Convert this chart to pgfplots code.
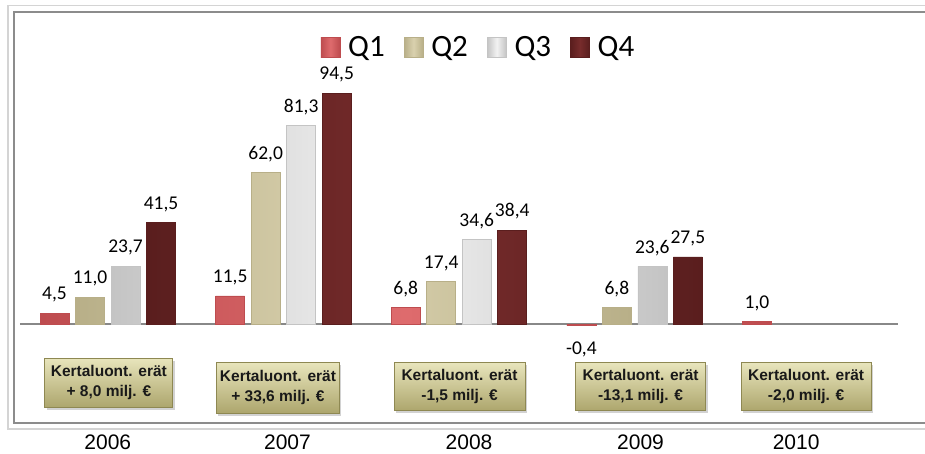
\documentclass[border=0pt]{standalone}
\usepackage{fontspec}
\setmainfont{Carlito}
\newfontfamily\arialfont{Liberation Sans}
\usepackage{pgfplots}
\pgfplotsset{compat=1.18}
\usetikzlibrary{shadows}
\definecolor{qonem}{HTML}{DE6B6D}
\definecolor{qonee}{HTML}{BE4C4F}
\definecolor{qtwom}{HTML}{D9D1AE}
\definecolor{qtwoe}{HTML}{B8AF88}
\definecolor{qthreem}{HTML}{F2F2F2}
\definecolor{qthreee}{HTML}{C4C4C4}
\definecolor{qfourm}{HTML}{772C2C}
\definecolor{qfoure}{HTML}{5A1E1E}
\definecolor{boxlight}{HTML}{E8E5BC}
\definecolor{boxdark}{HTML}{ADA66D}
\definecolor{boxborder}{HTML}{8E8852}
\definecolor{outerframe}{HTML}{D4D4D4}
\definecolor{innerframe}{HTML}{8C8C8C}
\definecolor{zeroline}{HTML}{888888}
\pgfplotsset{
  qbar/.style 2 args={draw=#2, line width=0.6pt, left color=#2, right color=#2, middle color=#1,
    legend image code/.code={\path[##1] (0pt,-10pt) rectangle (19pt,10pt);}},
}
\tikzset{kbox/.style={draw=boxborder, line width=0.8pt, top color=boxlight, bottom color=boxdark,
  align=center, inner sep=0pt, text=black!90,
  font=\arialfont\bfseries\fontsize{15.5}{20}\selectfont,
  drop shadow={shadow xshift=2pt, shadow yshift=-2.5pt, opacity=0.35}}}
\begin{document}
\begin{tikzpicture}
\useasboundingbox (0,0) rectangle (925pt,454pt);
\fill[white] (0,0) rectangle (925pt,454pt);
\draw[outerframe, line width=1.5pt] (940pt,25pt) -- (8pt,25pt) -- (8pt,448.5pt) -- (940pt,448.5pt);
\draw[innerframe, line width=1.5pt] (940pt,31pt) -- (14pt,31pt) -- (14pt,442pt) -- (940pt,442pt);
\begin{axis}[
  at={(20pt,31pt)}, anchor=south west, scale only axis,
  width=878pt, height=411pt,
  xmin=-0.5, xmax=4.5, ymin=-40.5, ymax=127.7,
  axis line style={draw=none},
  ytick=\empty,
  xtick={0,1.023,2.057,3.034,3.92},
  xticklabels={2006,2007,2008,2009,2010},
  xticklabel style={font=\arialfont\fontsize{21}{24}\selectfont, anchor=base, inner sep=0pt, yshift=-27pt},
  major tick length=0pt,
  extra y ticks={0}, extra y tick labels={},
  extra y tick style={grid=major, major grid style={draw=zeroline, line width=1.5pt}},
  ybar, bar width=29pt, clip=false,
  nodes near coords={\pgfmathprintnumber[fixed, fixed zerofill, precision=1, use comma, assume math mode=true]{\pgfplotspointmeta}},
  every node near coord/.append style={font=\fontsize{19.5}{23}\selectfont, inner sep=0pt, yshift=10.5pt, text=black},
  legend style={at={(0.521,0.9148)}, anchor=center, draw=none, fill=none, inner sep=0pt,
    legend columns=4, font=\fontsize{31}{36}\selectfont,
    nodes={inner sep=0pt, anchor=west},
    /tikz/every odd column/.append style={column sep=8pt},
    /tikz/every even column/.append style={column sep=19pt}},
]
\addplot[qbar={qonem}{qonee}, bar shift=-53.25pt] coordinates {(0,4.5) (1,11.5) (2,6.8) (4,1.0)};
\addplot[qbar={qtwom}{qtwoe}, bar shift=-17.75pt] coordinates {(0,11.0) (1,62.0) (2,17.4) (3,6.8)};
\addplot[qbar={qthreem}{qthreee}, bar shift=17.75pt] coordinates {(0,23.7) (1,81.3) (2,34.6) (3,23.6)};
\addplot[qbar={qfourm}{qfoure}, bar shift=53.25pt] coordinates {(0,41.5) (1,94.5) (2,38.4) (3,27.5)};
\addplot[qbar={qonem}{qonee}, bar shift=-53.25pt, forget plot,
  every node near coord/.append style={yshift=-27.5pt}] coordinates {(3,-0.4)};
\legend{Q1,Q2,Q3,Q4}
\node[kbox, minimum width=128pt, minimum height=49pt] at (axis cs:0.006,-23.94) {Kertaluont. erät\\+ 8,0 milj. €};
\node[kbox, minimum width=123pt, minimum height=51pt] at (axis cs:0.969,-25.98) {Kertaluont. erät\\+ 33,6 milj. €};
\node[kbox, minimum width=131pt, minimum height=48pt] at (axis cs:2.003,-25.57) {Kertaluont. erät\\-1,5 milj. €};
\node[kbox, minimum width=130pt, minimum height=48pt] at (axis cs:3.034,-25.57) {Kertaluont. erät\\-13,1 milj. €};
\node[kbox, minimum width=130pt, minimum height=48pt] at (axis cs:3.977,-25.57) {Kertaluont. erät\\-2,0 milj. €};
\end{axis}
\end{tikzpicture}
\end{document}
